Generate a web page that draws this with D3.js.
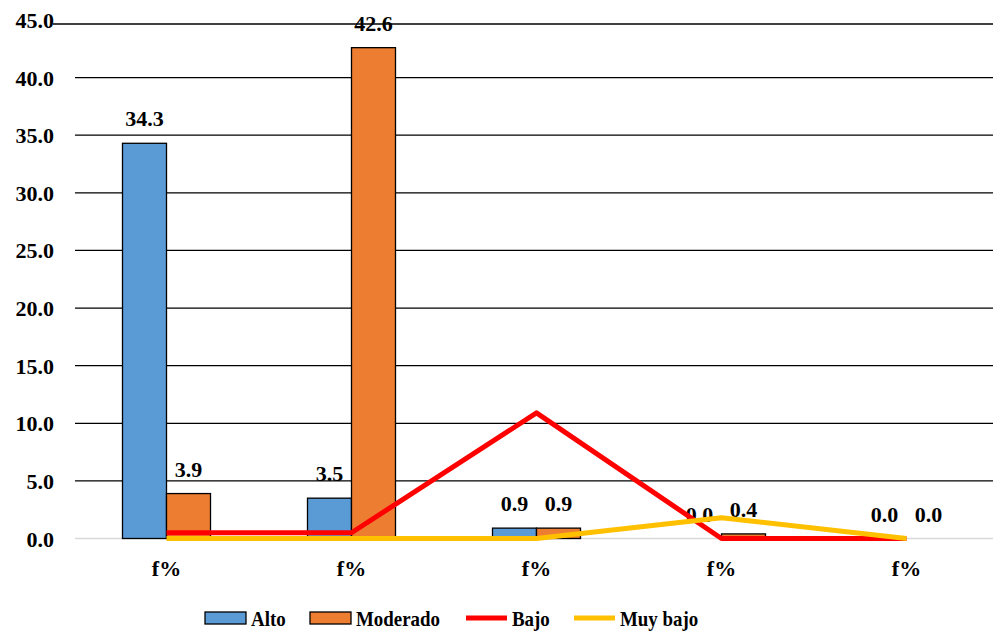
<!DOCTYPE html>
<html lang="en">
<head>
    <meta charset="UTF-8">
    <title>Niveles f%</title>
    <script src="https://d3js.org/d3.v7.min.js"></script>
</head>
<body style="margin:0">
<script>
    const categories = ["f%", "f%", "f%", "f%", "f%"];
    const alto = [34.3, 3.5, 0.9, 0.0, 0.0];
    const moderado = [3.9, 42.6, 0.9, 0.4, 0.0];
    const bajo = [0.5, 0.5, 10.9, 0.0, 0.0];
    const muyBajo = [0.0, 0.0, 0.0, 1.8, 0.0];
    const yTicks = [0, 5, 10, 15, 20, 25, 30, 35, 40, 45];

    const WIDTH = 993, HEIGHT = 632;
    const BARW = 44;
    const FONT = "Liberation Serif";
    const colors = {alto: "#5B9BD5", moderado: "#ED7D31", bajo: "#FF0000", muyBajo: "#FFC000"};

    const svg = d3.select("body").append("svg").attr("width", WIDTH).attr("height", HEIGHT);

    function label(sel) {
        return sel.attr("font-family", FONT).attr("font-weight", "bold").attr("fill", "#000");
    }

    const idx = categories.map((c, i) => i);
    const x = d3.scaleBand().domain(idx).range([74, 999]);
    const y = d3.scaleLinear().domain([0, 45]).range([538.5, 20]);
    const cx = i => x(i) + x.bandwidth() / 2;

    // gridlines
    svg.selectAll(".grid").data(yTicks.filter(t => t > 0 && t < 45)).enter().append("line")
        .attr("x1", 75).attr("x2", WIDTH)
        .attr("y1", d => y(d)).attr("y2", d => y(d))
        .attr("stroke", "#000").attr("stroke-width", 1.3);
    svg.append("line").attr("x1", 75).attr("x2", WIDTH).attr("y1", y(0)).attr("y2", y(0))
        .attr("stroke", "#D9D9D9").attr("stroke-width", 1.3);

    // tick labels
    svg.selectAll(".ytick").data(yTicks).enter().append("text")
        .call(label)
        .attr("x", 54).attr("y", d => y(d) + 8)
        .attr("text-anchor", "end").attr("font-size", 22)
        .text(d => d.toFixed(1));

    // bars
    const series = [{vals: alto, col: colors.alto, off: -BARW}, {vals: moderado, col: colors.moderado, off: 0}];
    series.forEach(s => {
        const g = svg.append("g");
        s.vals.forEach((v, i) => {
            if (v <= 0) return;
            g.append("rect")
                .attr("x", cx(i) + s.off)
                .attr("y", y(v))
                .attr("width", BARW)
                .attr("height", y(0) - y(v))
                .attr("fill", s.col).attr("stroke", "#000").attr("stroke-width", 1.3);
        });
    });

    // bar labels
    series.forEach(s => {
        svg.append("g").selectAll("text").data(s.vals).enter().append("text")
            .call(label)
            .attr("x", (d, i) => cx(i) + s.off + BARW / 2)
            .attr("y", d => y(d) - 17)
            .attr("text-anchor", "middle").attr("font-size", 22)
            .text(d => d.toFixed(1));
    });

    // lines
    const line = d3.line().x((d, i) => cx(i)).y(d => y(d));
    svg.append("path").datum(bajo).attr("d", line)
        .attr("fill", "none").attr("stroke", colors.bajo).attr("stroke-width", 5).attr("stroke-linejoin", "round");
    svg.append("path").datum(muyBajo).attr("d", line)
        .attr("fill", "none").attr("stroke", colors.muyBajo).attr("stroke-width", 5).attr("stroke-linejoin", "round");

    // top line
    svg.append("line").attr("x1", 53).attr("x2", WIDTH).attr("y1", 24).attr("y2", 24)
        .attr("stroke", "#000").attr("stroke-width", 1.3);

    // category labels
    svg.append("g").selectAll("text").data(categories).enter().append("text")
        .call(label)
        .attr("x", (d, i) => cx(i)).attr("y", 576)
        .attr("text-anchor", "middle").attr("font-size", 22)
        .text(d => d);

    // legend
    const legend = [
        {name: "Alto", col: colors.alto, type: "rect", x: 205},
        {name: "Moderado", col: colors.moderado, type: "rect", x: 310},
        {name: "Bajo", col: colors.bajo, type: "line", x: 466},
        {name: "Muy bajo", col: colors.muyBajo, type: "line", x: 574}
    ];
    legend.forEach(l => {
        if (l.type === "rect") {
            svg.append("rect").attr("x", l.x).attr("y", 612).attr("width", 41).attr("height", 12)
                .attr("fill", l.col).attr("stroke", "#000").attr("stroke-width", 1.3);
        } else {
            svg.append("line").attr("x1", l.x).attr("x2", l.x + 41).attr("y1", 618).attr("y2", 618)
                .attr("stroke", l.col).attr("stroke-width", 5);
        }
        const t = svg.append("text").call(label).attr("x", l.x + 46).attr("y", 626)
            .attr("font-size", 21).text(l.name);
        const w = t.node().getComputedTextLength();
        t.attr("textLength", w * 0.9).attr("lengthAdjust", "spacingAndGlyphs");
    });
</script>
</body>
</html>
